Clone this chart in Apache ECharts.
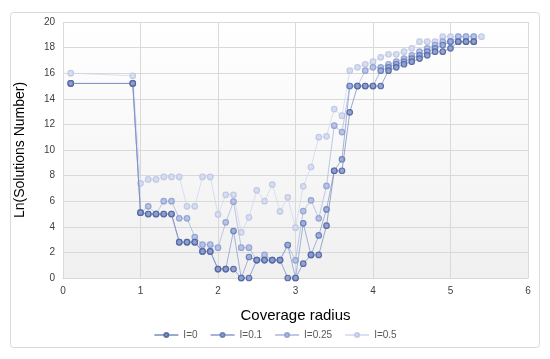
<!DOCTYPE html>
<html><head><meta charset="utf-8">
<script src="https://cdn.jsdelivr.net/npm/echarts@6/dist/echarts.min.js"></script>
<style>html,body{margin:0;padding:0;background:#fff}#c{width:550px;height:359px}</style>
</head><body><div id="c"></div>
<script>
const xs = [0.1,0.9,1.0,1.1,1.2,1.3,1.4,1.5,1.6,1.7,1.8,1.9,2.0,2.1,2.2,2.3,2.4,2.5,2.6,2.7,2.8,2.9,3.0,3.1,3.2,3.3,3.4,3.5,3.6,3.7,3.8,3.9,4.0,4.1,4.2,4.3,4.4,4.5,4.6,4.7,4.8,4.9,5.0,5.1,5.2,5.3,5.4];
const yI0   = [15.2,15.2,5.1,5.0,5.0,5.0,5.0,2.8,2.8,2.8,2.08,2.08,0.7,0.7,0.7,0,0,1.4,1.4,1.4,1.4,0,0,1.12,1.8,1.8,4.09,8.38,8.38,12.94,15.0,15.0,15.0,15.0,16.2,16.46,16.7,16.9,17.14,17.4,17.68,17.68,17.94,18.46,18.46,18.46];
const yI01  = [15.2,15.2,5.1,5.0,5.0,5.0,5.0,2.8,2.8,2.8,2.08,2.08,0.7,0.7,3.67,0,1.64,1.4,1.4,1.4,1.4,2.58,0,4.27,1.8,3.33,5.36,8.38,9.27,15.0,15.0,15.0,15.0,16.2,16.46,16.7,16.9,17.14,17.4,17.68,17.94,18.2,18.46,18.46,18.46,18.46];
const yI025 = [15.2,15.2,5.1,5.6,5.0,6.0,6.0,4.66,4.66,3.2,2.6,2.6,2.37,4.35,5.96,2.37,2.37,1.4,1.8,1.4,1.4,2.58,1.38,5.23,6.07,4.66,7.19,11.9,11.4,15.0,15.0,16.2,16.46,16.46,16.7,16.9,17.14,17.4,17.68,17.94,18.2,18.46,18.46,18.85,18.85,18.85];
const yI05  = [16.0,15.8,7.4,7.7,7.7,7.9,7.9,7.9,5.6,5.6,7.9,7.9,4.97,6.5,6.5,3.57,4.74,6.85,6.0,7.3,5.2,6.3,3.93,7.16,8.67,11.0,11.07,13.2,12.68,16.2,16.46,16.7,16.9,17.24,17.48,17.48,17.68,17.94,18.46,18.46,18.46,18.85,18.85,18.85,18.85,18.85,18.85];
const names = ['I=0','I=0.1','I=0.25','I=0.5'];
const lineColors = ['#7a8cc0','#8a9bcd','#aab7de','#d0d6ec'];
const fillColors = ['#8c9dd0','#9aabd9','#b4c0e3','#d6dbee'];
const borderColors = ['#52659f','#6379b6','#8e9fd0','#bcc5e3'];
const xTicks = [0,1,2,3,4,5,6];

function pairs(ys){ return ys.map((y,i)=>[xs[i],y]); }
const allY = [yI0,yI01,yI025,yI05];

const chart = echarts.init(document.getElementById('c'));
chart.setOption({
  animation:false,
  backgroundColor:'#fff',
  graphic:[{type:'rect',shape:{x:10.5,y:12.5,width:529,height:335,r:3},style:{fill:'none',stroke:'#d9d9d9',lineWidth:1},z:-1}],
  grid:{left:63,right:22,top:22,bottom:81,show:true,borderWidth:0,
    backgroundColor:{type:'linear',x:0,y:0,x2:0,y2:1,colorStops:[{offset:0,color:'#ffffff'},{offset:1,color:'#f0f0f0'}]}},
  legend:{bottom:14,left:'center',itemWidth:24,itemHeight:5,itemGap:12,
    textStyle:{fontFamily:'Liberation Sans, Arial',fontSize:10,color:'#595959'},data:names},
  xAxis:{type:'value',min:0,max:6,interval:1,name:'Coverage radius',nameLocation:'middle',nameGap:30,
    nameTextStyle:{fontFamily:'Liberation Sans, Arial',fontSize:15,color:'#000'},
    axisLine:{show:true,lineStyle:{color:'#d9d9d9'}},axisTick:{show:false},
    axisLabel:{fontFamily:'Liberation Sans, Arial',fontSize:10,color:'#404040',margin:8,formatter:v=>xTicks.includes(v)?String(v):''},
    splitLine:{show:true,lineStyle:{color:'#d9d9d9'}}},
  yAxis:{type:'value',min:0,max:20,interval:2,name:'Ln(Solutions Number)',nameLocation:'middle',nameGap:36,
    nameTextStyle:{fontFamily:'Liberation Sans, Arial',fontSize:14,color:'#000'},
    axisLine:{show:false},axisTick:{show:false},
    axisLabel:{fontFamily:'Liberation Sans, Arial',fontSize:10,color:'#404040',margin:8},
    splitLine:{show:true,lineStyle:{color:'#d9d9d9'}}},
  series: allY.map((ys,k)=>({
    name:names[k],type:'line',data:pairs(ys),symbol:'circle',symbolSize:5.5,showSymbol:true,
    lineStyle:{width:1,color:lineColors[k],opacity:0.75},
    itemStyle:{color:fillColors[k],borderColor:borderColors[k],borderWidth:1.2,opacity:0.9},
    z:10-k
  }))
});
</script></body></html>
